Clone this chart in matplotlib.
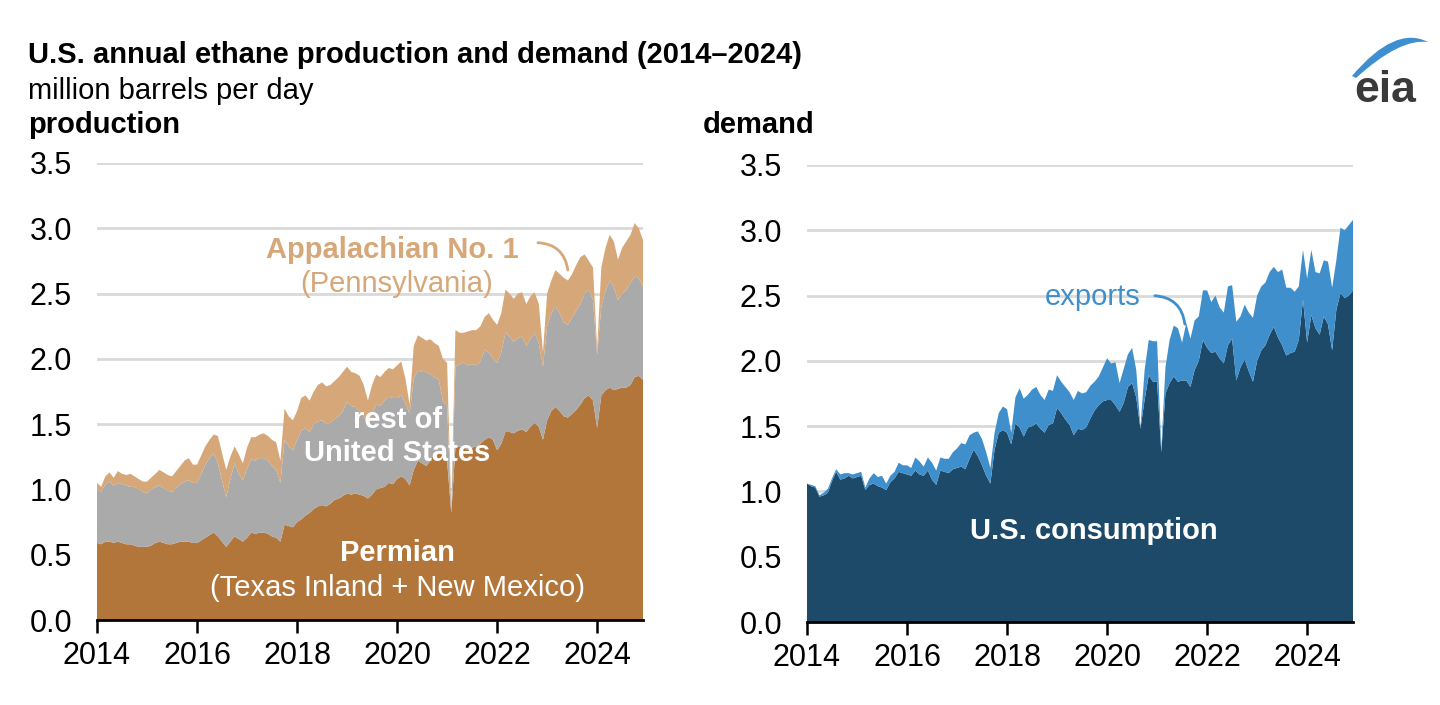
import numpy as np
import matplotlib
matplotlib.use("Agg")
import matplotlib.pyplot as plt
from matplotlib.path import Path
from matplotlib.patches import PathPatch

plt.rcParams['font.family'] = ['Liberation Sans', 'DejaVu Sans']

# monthly values, Jan 2014 - Dec 2024, million barrels per day
permian = [
    .59, .58, .60, .60, .59, .60, .59, .58, .58, .57, .56, .56,
    .56, .57, .59, .60, .59, .58, .58, .59, .60, .60, .60, .59,
    .59, .61, .63, .65, .67, .64, .60, .56, .60, .64, .62, .60,
    .63, .67, .66, .67, .67, .66, .64, .63, .60, .73, .72, .71,
    .75, .77, .80, .82, .85, .87, .88, .87, .89, .92, .93, .95,
    .97, .96, .97, .96, .95, .93, .96, 1.00, 1.01, 1.02, 1.05, 1.04,
    1.08, 1.10, 1.08, 1.03, 1.15, 1.22, 1.20, 1.18, 1.22, 1.28, 1.30, 1.25,
    1.22, .82, 1.32, 1.33, 1.32, 1.30, 1.32, 1.33, 1.35, 1.38, 1.40, 1.38,
    1.30, 1.35, 1.44, 1.44, 1.43, 1.45, 1.46, 1.44, 1.48, 1.51, 1.48, 1.38,
    1.53, 1.60, 1.63, 1.60, 1.56, 1.55, 1.58, 1.61, 1.65, 1.70, 1.72, 1.68,
    1.47, 1.72, 1.76, 1.78, 1.76, 1.77, 1.78, 1.78, 1.80, 1.86, 1.87, 1.84,
]
rest_of_us = [
    .41, .40, .44, .46, .44, .45, .45, .45, .44, .45, .44, .42,
    .41, .43, .43, .43, .42, .41, .40, .42, .44, .46, .47, .46,
    .46, .51, .56, .59, .61, .56, .47, .38, .48, .56, .50, .47,
    .53, .56, .56, .57, .57, .56, .54, .52, .45, .65, .61, .59,
    .63, .68, .67, .62, .65, .65, .65, .63, .62, .62, .63, .65,
    .70, .68, .66, .64, .61, .57, .62, .65, .63, .66, .66, .66,
    .62, .62, .58, .55, .70, .69, .70, .72, .66, .58, .54, .43,
    .42, .02, .62, .63, .65, .65, .64, .62, .63, .69, .65, .62,
    .67, .70, .76, .73, .70, .71, .71, .66, .67, .69, .64, .56,
    .72, .75, .77, .75, .72, .71, .74, .76, .77, .80, .81, .77,
    .56, .68, .76, .82, .79, .68, .72, .75, .78, .77, .75, .71,
]
appalachian = [
    .05, .04, .06, .07, .06, .09, .08, .08, .10, .08, .08, .08,
    .09, .09, .10, .12, .12, .12, .12, .13, .14, .16, .17, .14,
    .14, .14, .14, .14, .14, .21, .21, .21, .17, .13, .15, .13,
    .16, .17, .18, .18, .19, .19, .20, .21, .17, .24, .23, .23,
    .22, .25, .25, .24, .25, .28, .29, .29, .29, .29, .30, .30,
    .27, .26, .26, .27, .24, .18, .22, .23, .22, .22, .22, .22,
    .25, .26, .19, .07, .25, .27, .26, .24, .27, .26, .26, .32,
    .33, .03, .28, .24, .23, .26, .26, .27, .27, .25, .30, .30,
    .29, .30, .33, .33, .33, .34, .34, .32, .33, .31, .30, .11,
    .25, .25, .28, .30, .34, .34, .33, .35, .36, .30, .22, .25,
    .05, .30, .33, .35, .35, .31, .35, .37, .37, .41, .38, .36,
]
consumption = [
    1.06, 1.04, 1.03, .96, .97, .99, 1.08, 1.15, 1.09, 1.10, 1.12, 1.10,
    1.11, 1.12, 1.01, 1.05, 1.06, 1.04, 1.03, 1.01, 1.07, 1.10, 1.15, 1.14,
    1.13, 1.12, 1.16, 1.13, 1.12, 1.16, 1.09, 1.05, 1.16, 1.15, 1.14, 1.17,
    1.18, 1.19, 1.17, 1.25, 1.32, 1.27, 1.20, 1.12, 1.06, 1.32, 1.45, 1.47,
    1.45, 1.36, 1.52, 1.49, 1.42, 1.49, 1.50, 1.52, 1.48, 1.45, 1.51, 1.52,
    1.64, 1.60, 1.55, 1.51, 1.43, 1.48, 1.47, 1.49, 1.56, 1.62, 1.66, 1.69,
    1.70, 1.70, 1.66, 1.61, 1.68, 1.80, 1.83, 1.72, 1.48, 1.70, 1.89, 1.84,
    1.84, 1.30, 1.75, 1.83, 1.88, 1.84, 1.85, 1.85, 1.80, 1.93, 2.00, 2.16,
    2.10, 2.06, 2.07, 2.02, 1.98, 2.12, 2.17, 1.85, 1.95, 2.01, 1.92, 1.84,
    2.00, 2.08, 2.12, 2.20, 2.26, 2.18, 2.12, 2.04, 2.06, 2.07, 2.16, 2.47,
    2.14, 2.35, 2.25, 2.20, 2.34, 2.28, 2.08, 2.39, 2.52, 2.48, 2.50, 2.54,
]
exports = [
    .00, .01, .01, .01, .02, .03, .02, .02, .04, .04, .02, .03,
    .03, .03, .02, .05, .08, .07, .09, .05, .05, .05, .07, .06,
    .07, .06, .10, .10, .07, .10, .13, .11, .10, .10, .11, .13,
    .15, .18, .19, .18, .13, .19, .20, .18, .12, .13, .15, .18,
    .18, .09, .20, .30, .29, .25, .28, .28, .26, .25, .27, .25,
    .25, .24, .25, .25, .27, .29, .28, .27, .25, .22, .22, .26,
    .32, .28, .33, .22, .26, .25, .27, .21, .01, .23, .27, .31,
    .31, .02, .20, .33, .39, .41, .29, .44, .37, .38, .34, .38,
    .44, .39, .43, .39, .39, .45, .41, .45, .39, .42, .45, .49,
    .50, .49, .48, .48, .46, .50, .58, .52, .50, .46, .41, .38,
    .49, .50, .43, .47, .43, .48, .48, .38, .50, .52, .54, .54,
]
year_ticks = [2014, 2016, 2018, 2020, 2022, 2024]
y_ticks = [0.0, 0.5, 1.0, 1.5, 2.0, 2.5, 3.0, 3.5]

months = 2014 + np.arange(len(permian)) / 12

c_permian = "#b2763a"
c_rest = "#aaaaaa"
c_app = "#d6a778"
c_cons = "#1e4a69"
c_exp = "#3f8fcd"

fig = plt.figure(figsize=(14.4, 7.05), dpi=100)
ax1 = fig.add_axes([97 / 1440, 85 / 705, 546 / 1440, 457 / 705])
ax2 = fig.add_axes([807 / 1440, 83 / 705, 546 / 1440, 457 / 705])

ax1.stackplot(months, permian, rest_of_us, appalachian,
              colors=[c_permian, c_rest, c_app], linewidth=0, zorder=2)
ax2.stackplot(months, consumption, exports,
              colors=[c_cons, c_exp], linewidth=0, zorder=2)

for ax in (ax1, ax2):
    ax.set_xlim(months[0], months[-1])
    ax.set_ylim(0, 3.5)
    ax.set_xticks(year_ticks)
    ax.set_xticklabels([str(y) for y in year_ticks])
    ax.set_yticks(y_ticks)
    ax.set_yticklabels([f"{v:.1f}" for v in y_ticks])
    ax.tick_params(axis="y", length=0, pad=18, labelsize=22)
    ax.tick_params(axis="x", length=9, width=1.8, pad=6, labelsize=22,
                   direction="out")
    for s in ("top", "right", "left"):
        ax.spines[s].set_visible(False)
    ax.spines["bottom"].set_linewidth(2)
    ax.spines["bottom"].set_zorder(4)
    ax.grid(axis="y", color="#d9d9d9", linewidth=2, zorder=0)
    ax.set_axisbelow(True)

# production labels
ax1.text(2019.9, 2.83, "Appalachian No. 1", ha="center", va="center",
         fontsize=21, fontweight="bold", color=c_app)
ax1.text(2020.0, 2.57, "(Pennsylvania)", ha="center", va="center",
         fontsize=21, color=c_app)
ax1.text(2020.0, 1.53, "rest of", ha="center", va="center",
         fontsize=21, fontweight="bold", color="white")
ax1.text(2020.0, 1.28, "United States", ha="center", va="center",
         fontsize=21, fontweight="bold", color="white")
ax1.text(2020.0, 0.51, "Permian", ha="center", va="center",
         fontsize=21, fontweight="bold", color="white")
ax1.text(2020.0, 0.245, "(Texas Inland + New Mexico)", ha="center",
         va="center", fontsize=21, color="white")
ax1.annotate("", xy=(2023.42, 2.66), xytext=(2022.76, 2.89),
             arrowprops=dict(arrowstyle="-", color=c_app, lw=2,
                             connectionstyle="arc3,rad=-0.45"))

# demand labels
ax2.text(2019.72, 2.49, "exports", ha="center", va="center",
         fontsize=21, color=c_exp)
ax2.text(2019.74, 0.70, "U.S. consumption", ha="center", va="center",
         fontsize=21, fontweight="bold", color="white")
ax2.annotate("", xy=(2021.56, 2.26), xytext=(2020.9, 2.50),
             arrowprops=dict(arrowstyle="-", color=c_exp, lw=2,
                             connectionstyle="arc3,rad=-0.45"))

# headings
fig.text(28 / 1440, 1 - 55 / 705, "U.S. annual ethane production and demand (2014\u20132024)",
         ha="left", va="center", fontsize=21, fontweight="bold")
fig.text(28 / 1440, 1 - 91 / 705, "million barrels per day",
         ha="left", va="center", fontsize=21)
fig.text(28 / 1440, 1 - 125 / 705, "production",
         ha="left", va="center", fontsize=21, fontweight="bold")
fig.text(703 / 1440, 1 - 125 / 705, "demand",
         ha="left", va="center", fontsize=21, fontweight="bold")

# eia logo
fig.text(1385 / 1440, 1 - 90 / 705, "eia", ha="center", va="center",
         fontsize=32, fontweight="bold", color="#3a3a3a")
W, H = 1440, 705
pts = [(1352, 76), (1395, 25), (1428, 42), (1428, 42),
       (1428, 42), (1400, 38), (1356, 78), (1352, 76)]
verts = [(px / W, 1 - py / H) for px, py in pts]
codes = [Path.MOVETO, Path.CURVE3, Path.CURVE3, Path.LINETO,
         Path.LINETO, Path.CURVE3, Path.CURVE3, Path.CLOSEPOLY]
fig.add_artist(PathPatch(Path(verts, codes), transform=fig.transFigure,
                         facecolor="#3d8fd1", edgecolor="none"))

fig.savefig("out.png", dpi=100)
